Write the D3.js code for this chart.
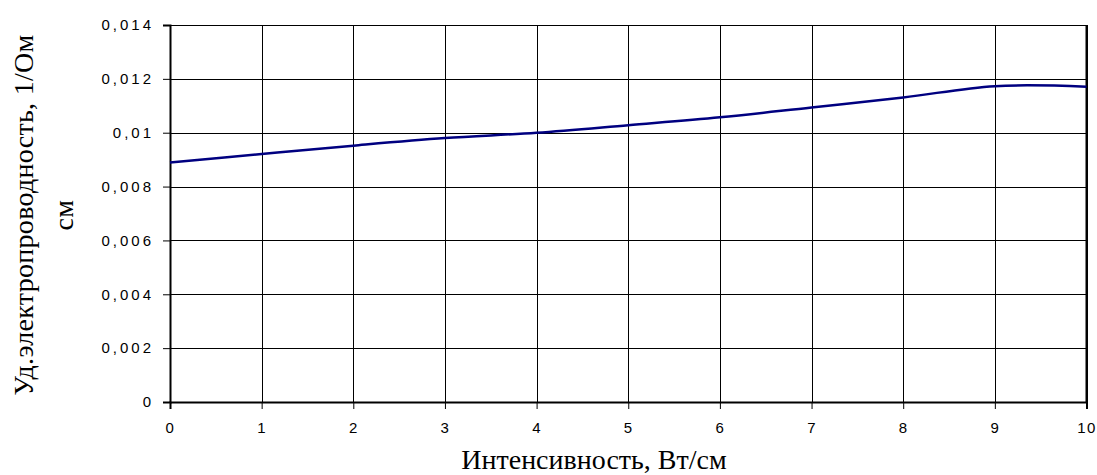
<!DOCTYPE html>
<html>
<head>
<meta charset="utf-8">
<script src="https://cdn.jsdelivr.net/npm/d3@7"></script>
<style>
  html, body { margin: 0; padding: 0; background: #fff; }
  svg { display: block; }
</style>
</head>
<body>
<svg id="chart" width="1097" height="475"></svg>
<script>
// Intensity (W/cm) and specific conductivity (1/(Ohm·cm))
const intensity = [0, 1, 2, 3, 4, 5, 6, 7, 8, 9, 10];
const conductivity = [0.00889, 0.00921, 0.00952, 0.00980, 0.01000, 0.01028, 0.01057, 0.01094, 0.01131, 0.01173, 0.01171];
const xTicks = [0, 1, 2, 3, 4, 5, 6, 7, 8, 9, 10];
const yTicks = [0, 0.002, 0.004, 0.006, 0.008, 0.010, 0.012, 0.014];
const xTitle = "Интенсивность, Вт/см";
const yTitleLines = ["Уд.электропроводность, 1/Ом", "см"];

const svg = d3.select("#chart");
const m = { left: 170, right: 1086.5, top: 25, bottom: 402 };

const x = d3.scaleLinear().domain([0, 10]).range([m.left, m.right]);
const y = d3.scaleLinear().domain([0, 0.014]).range([m.bottom, m.top]);

const fmtY = v => v === 0 ? "0" : d3.format(".3~f")(v).replace(".", ",");

// grid
const grid = svg.append("g").attr("stroke", "#000").attr("stroke-width", 1).attr("shape-rendering", "crispEdges");
grid.selectAll(".h").data(yTicks).join("line")
  .attr("x1", m.left).attr("x2", m.right)
  .attr("y1", d => Math.round(y(d)) + 0.5).attr("y2", d => Math.round(y(d)) + 0.5);
grid.selectAll(".v").data(xTicks).join("line")
  .attr("y1", m.top).attr("y2", m.bottom)
  .attr("x1", d => Math.round(x(d)) + 0.5).attr("x2", d => Math.round(x(d)) + 0.5);

// right border
svg.append("line").attr("x1", m.right).attr("x2", m.right).attr("y1", m.top).attr("y2", m.bottom)
  .attr("stroke", "#000").attr("stroke-width", 2);

// axes
const yAxis = d3.axisLeft(y).tickValues(yTicks).tickFormat(fmtY).tickSize(7).tickPadding(9);
const xAxis = d3.axisBottom(x).tickValues(xTicks).tickFormat(d => d).tickSize(7).tickPadding(13);

const gy = svg.append("g").attr("transform", `translate(${m.left},0)`).call(yAxis);
const gx = svg.append("g").attr("transform", `translate(0,${m.bottom})`).call(xAxis);
[gy, gx].forEach(g => {
  g.select(".domain").attr("stroke", "#000").attr("stroke-width", 2);
  g.selectAll(".tick line").attr("stroke", "#000").attr("stroke-width", 1);
  g.selectAll(".tick text").attr("fill", "#000")
    .style("font-family", "'Liberation Sans', Arial, sans-serif")
    .style("font-size", "15px");
});
gy.selectAll(".tick text").style("letter-spacing", "3px");
gx.selectAll(".tick text").style("letter-spacing", "1.5px");

// data line
const line = d3.line()
  .x((d, i) => x(intensity[i]))
  .y(d => y(d))
  .curve(d3.curveCatmullRom.alpha(0.5));
svg.append("path").datum(conductivity)
  .attr("d", line)
  .attr("fill", "none")
  .attr("stroke", "#000080")
  .attr("stroke-width", 2.5);

// axis titles
const serif = "'Liberation Serif', 'Times New Roman', serif";
svg.append("text")
  .attr("x", 594).attr("y", 469)
  .attr("text-anchor", "middle")
  .style("font-family", serif).style("font-size", "28px")
  .text(xTitle);

const yt = svg.append("text")
  .attr("transform", `translate(33,215) rotate(-90)`)
  .attr("text-anchor", "middle")
  .style("font-family", serif).style("font-size", "28px")
  .style("letter-spacing", "0.3px");
yt.selectAll("tspan").data(yTitleLines).join("tspan")
  .attr("x", 0).attr("dy", (d, i) => i === 0 ? 0 : 40)
  .text(d => d);
</script>
</body>
</html>
